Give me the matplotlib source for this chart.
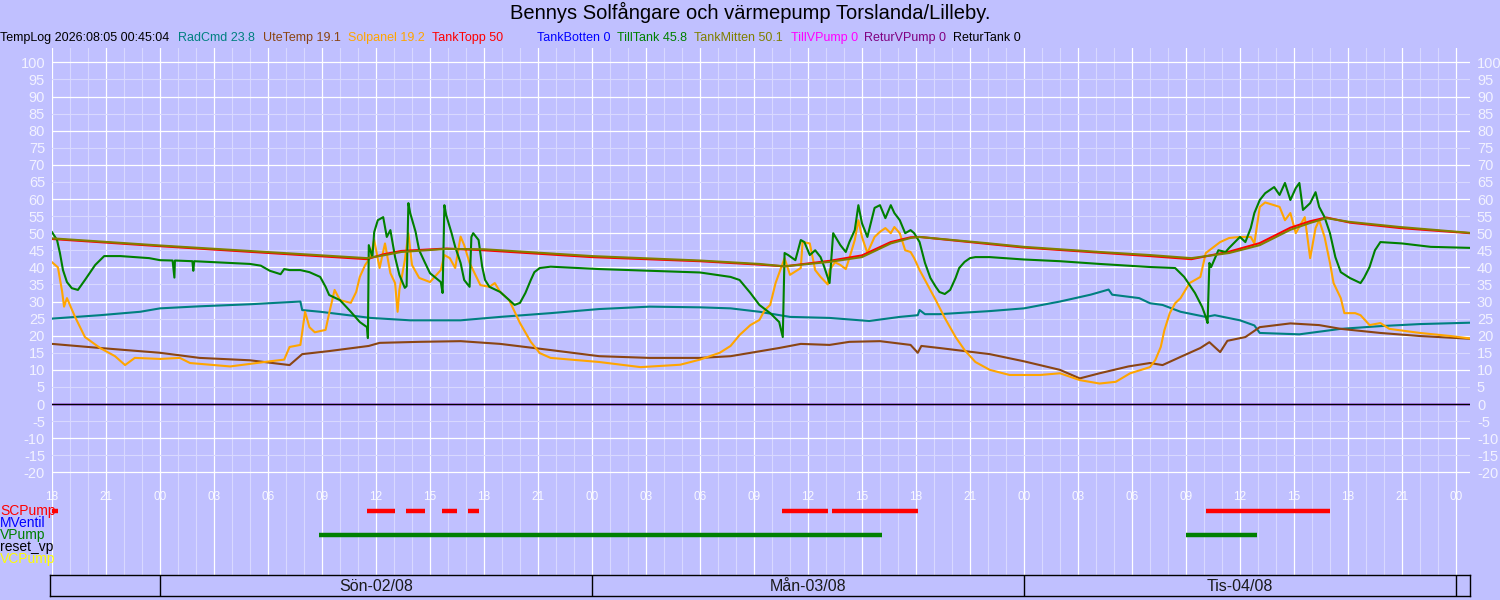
import numpy as np
import matplotlib
matplotlib.use("Agg")
import matplotlib.pyplot as plt

plt.rcParams['font.family'] = ['Liberation Sans', 'DejaVu Sans']

BG = '#C0C0FF'
GRID_MAJOR = '#FFFFFF'
GRID_MINOR = '#D8D8FF'

# time axis: hours since Sat 01/08 18:00
T_END = 78.78

title = "Bennys Solfångare och värmepump Torslanda/Lilleby."
stamp = "TempLog 2026:08:05 00:45:04"

legend_names = ["RadCmd", "UteTemp", "Solpanel", "TankTopp", "TankBotten",
                "TillTank", "TankMitten", "TillVPump", "ReturVPump", "ReturTank"]
legend_values = ["23.8", "19.1", "19.2", "50", "0", "45.8", "50.1", "0", "0", "0"]
legend_colors = ["#008080", "#8B4513", "#FFA500", "#FF0000", "#0000FF",
                 "#008000", "#808000", "#FF00FF", "#800080", "#000000"]

# RadCmd
rad_t = [0, 2.67, 4.9, 6.0, 8.2, 11.0, 13.8, 13.9, 14.9, 16.0, 17.7, 19.9, 22.7, 24.9,
         27.7, 30.4, 33.2, 36.0, 37.7, 39.3, 41.0, 43.2, 45.4, 47.1, 48.1, 48.2, 48.5,
         49.3, 52.1, 54.0, 56.0, 57.7, 58.7, 58.9, 60.4, 61.0, 61.7, 62.7, 64.1, 64.6,
         66.0, 66.8, 67.1, 69.3, 71.6, 73.8, 76.0, 78.78]
rad_v = [25.0, 26.0, 27.0, 28.0, 28.6, 29.2, 30.0, 27.5, 27.0, 26.3, 25.2, 24.5, 24.5, 25.5,
         26.6, 27.8, 28.5, 28.3, 28.0, 27.0, 25.5, 25.2, 24.3, 25.5, 26.0, 27.5, 26.3,
         26.3, 27.2, 28.0, 30.0, 32.0, 33.5, 32.0, 31.0, 29.5, 29.0, 27.0, 25.5, 26.0,
         24.5, 23.0, 20.8, 20.4, 22.0, 22.8, 23.4, 23.8]

# UteTemp
ute_t = [0, 2.67, 6.0, 8.2, 11.0, 13.2, 13.9, 15.4, 17.6, 18.2, 20.4, 22.7, 24.9, 27.7,
         30.4, 33.2, 36.0, 37.7, 40.4, 41.6, 43.2, 44.3, 46.0, 47.7, 48.1, 48.3, 49.3,
         52.1, 54.0, 56.0, 57.1, 58.2, 59.8, 61.0, 61.7, 62.7, 63.8, 64.3, 64.9, 65.3,
         66.3, 67.1, 68.8, 70.4, 71.6, 73.8, 76.0, 78.78]
ute_v = [17.6, 16.4, 15.0, 13.5, 12.8, 11.4, 14.6, 15.5, 17.0, 17.9, 18.2, 18.4, 17.6, 15.8,
         14.0, 13.5, 13.5, 14.0, 16.4, 17.6, 17.3, 18.2, 18.4, 17.3, 15.0, 17.0, 16.4,
         14.6, 12.5, 10.0, 7.5, 9.0, 11.0, 12.0, 11.4, 13.8, 16.4, 18.1, 15.2, 18.5,
         19.6, 22.5, 23.6, 23.1, 22.0, 20.8, 19.9, 19.1]

# Solpanel
sol_t = [0, 0.33, 0.56, 0.67, 0.83, 1.28, 1.83, 2.67, 3.5, 4.06, 4.6, 6.0, 7.1, 7.67,
         9.9, 12.1, 12.9, 13.2, 13.8, 13.9, 14.06, 14.3, 14.6, 15.2, 15.4, 15.7, 16.0,
         16.6, 16.9, 17.1, 17.4, 17.7, 17.9, 18.2, 18.5, 18.8, 19.06, 19.2, 19.3, 19.6,
         19.8, 20.0, 20.4, 21.0, 21.6, 21.8, 22.1, 22.4, 22.7, 22.9, 23.2, 23.8, 24.3,
         24.6, 24.9, 25.4, 26.0, 26.6, 27.1, 27.7, 30.4, 32.7, 34.9, 36.0, 37.1, 37.7,
         38.2, 38.8, 39.3, 39.6, 39.9, 40.2, 40.4, 40.7, 41.0, 41.6, 41.7, 42.1, 42.4,
         42.7, 43.1, 43.2, 43.5, 43.8, 44.1, 44.3, 44.6, 44.8, 45.0, 45.3, 45.7, 46.0,
         46.3, 46.6, 46.8, 47.1, 47.4, 47.7, 47.9, 48.2, 48.5, 49.1, 49.6, 50.2, 50.7,
         51.3, 52.1, 53.2, 54.9, 56.0, 57.1, 58.2, 59.1, 59.9, 61.0, 61.3, 61.6, 61.8,
         62.1, 62.4, 62.7, 63.2, 63.8, 64.1, 64.3, 64.9, 65.4, 66.0, 66.6, 66.8, 67.1,
         67.4, 67.9, 68.2, 68.5, 68.8, 69.1, 69.6, 69.9, 70.2, 70.4, 70.7, 71.0, 71.2,
         71.6, 71.8, 72.4, 72.7, 73.2, 73.8, 74.3, 76.0, 77.7, 78.78]
sol_v = [41.5, 40.0, 33.0, 28.5, 31.0, 25.5, 19.6, 16.4, 14.0, 11.4, 13.5, 13.2, 13.5, 12.0,
         11.0, 12.5, 13.0, 16.7, 17.3, 21.0, 27.0, 22.5, 21.0, 21.7, 26.6, 33.4, 30.4,
         29.6, 32.8, 37.2, 40.7, 43.0, 48.0, 39.8, 47.0, 38.3, 35.4, 27.0, 33.4, 42.0,
         50.0, 40.7, 36.9, 35.7, 39.2, 43.6, 42.7, 39.8, 49.0, 46.5, 41.3, 34.8, 34.3,
         35.4, 32.8, 30.4, 23.7, 18.2, 14.9, 13.5, 12.3, 10.8, 11.5, 13.0, 15.0, 17.0,
         20.2, 23.1, 24.6, 27.5, 29.0, 35.4, 38.3, 42.7, 37.8, 39.8, 47.4, 47.0, 39.2,
         37.2, 35.0, 39.2, 41.5, 40.7, 39.5, 42.7, 48.0, 53.8, 48.9, 44.2, 48.9, 50.4,
         51.5, 50.0, 51.8, 50.0, 45.0, 44.5, 42.7, 39.2, 36.3, 30.4, 25.2, 19.6, 15.8,
         12.3, 10.0, 8.5, 8.5, 9.0, 7.0, 6.0, 6.5, 9.0, 10.8, 12.9, 16.7, 21.6,
         26.6, 29.5, 31.0, 35.4, 37.2, 44.2, 45.0, 47.4, 48.6, 48.9, 48.9, 47.0, 57.7,
         59.0, 58.2, 57.7, 53.8, 55.9, 50.0, 54.7, 42.7, 51.5, 53.8, 48.9, 41.3, 35.4,
         31.0, 26.6, 26.6, 26.0, 23.1, 23.7, 22.0, 20.8, 19.9, 19.2]

# TankTopp / TankMitten
tank_t = [0, 6.0, 17.5, 18.4, 19.4, 21.9, 24.0, 30.0, 36.0, 39.3, 40.7, 43.2, 45.0, 46.6,
          47.7, 48.2, 52.1, 54.0, 58.2, 61.0, 63.3, 65.4, 67.1, 68.8, 69.9, 70.8, 72.1,
          74.9, 78.78]
topp_v = [48.3, 46.2, 42.4, 43.8, 44.8, 45.5, 45.0, 43.0, 41.8, 40.8, 40.3, 41.9, 43.5, 47.4,
          48.8, 48.9, 46.8, 45.8, 44.3, 43.3, 42.4, 44.6, 47.1, 51.6, 53.5, 54.6, 53.1,
          51.5, 50.0]
mitten_v = [48.5, 46.4, 42.7, 43.5, 44.5, 45.4, 45.3, 43.3, 42.0, 41.0, 40.3, 41.6, 43.0, 47.0,
            48.6, 48.9, 47.0, 46.0, 44.5, 43.6, 42.7, 44.2, 46.5, 51.0, 53.0, 54.4, 53.3,
            51.8, 50.1]

# TillTank
till_t = [0, 0.28, 0.44, 0.61, 0.83, 1.1, 1.44, 1.83, 2.4, 2.9, 3.8, 5.4, 6.0, 6.7, 6.8,
          6.83, 7.8, 7.85, 7.9, 11.0, 11.6, 12.1, 12.7, 12.9, 13.2, 13.8, 14.3, 14.9, 15.2,
          15.4, 16.0, 16.6, 17.1, 17.5, 17.55, 17.6, 17.8, 17.9, 18.1, 18.4, 18.6, 18.8,
          19.06, 19.3, 19.6, 19.7, 19.8, 19.9, 20.2, 20.4, 20.7, 21.0, 21.6, 21.7, 21.8,
          21.9, 22.2, 22.4, 22.7, 22.9, 23.2, 23.3, 23.4, 23.7, 23.9, 24.06, 24.3, 24.9,
          25.4, 25.7, 26.0, 26.3, 26.6, 26.8, 27.1, 27.7, 30.4, 33.2, 36.0, 37.7, 38.2,
          38.8, 39.3, 39.9, 40.4, 40.6, 40.7, 40.9, 41.3, 41.6, 41.8, 42.1, 42.4, 42.7,
          42.9, 43.2, 43.4, 43.8, 44.1, 44.3, 44.6, 44.8, 45.0, 45.3, 45.7, 46.0, 46.3,
          46.6, 46.8, 47.1, 47.4, 47.7, 47.9, 48.2, 48.5, 48.8, 49.1, 49.3, 49.6, 49.9,
          50.2, 50.4, 50.7, 51.0, 51.3, 52.1, 54.0, 56.0, 58.2, 60.4, 61.0, 62.4, 62.9,
          63.5, 63.9, 64.1, 64.2, 64.3, 64.4, 64.8, 65.2, 65.4, 66.0, 66.3, 66.6, 66.8,
          67.1, 67.4, 67.9, 68.2, 68.5, 68.8, 69.1, 69.3, 69.5, 69.9, 70.2, 70.4, 70.7,
          71.0, 71.3, 71.6, 72.1, 72.7, 72.9, 73.2, 73.5, 73.8, 75.0, 76.6, 78.78]
till_v = [50.3, 48.0, 44.2, 39.2, 35.7, 33.9, 33.4, 36.3, 40.7, 43.3, 43.3, 42.7, 42.1, 42.0, 37.0,
          42.0, 41.8, 39.0, 41.8, 41.0, 40.5, 39.0, 38.0, 39.5, 39.2, 39.2, 38.6, 37.2, 34.3,
          31.9, 30.4, 27.0, 24.0, 22.5, 19.3, 46.5, 43.0, 50.3, 53.8, 54.7, 48.9, 50.9,
          43.0, 37.8, 34.0, 34.5, 58.8, 55.9, 50.4, 45.0, 41.6, 38.3, 35.7, 32.5, 58.2,
          55.3, 50.0, 46.0, 41.3, 36.3, 34.3, 48.9, 50.0, 48.0, 40.2, 36.3, 34.3, 32.8,
          30.4, 29.0, 29.6, 32.5, 36.3, 38.6, 39.8, 40.2, 39.5, 39.0, 38.5, 37.2, 36.3,
          32.5, 29.0, 26.6, 24.0, 19.6, 44.2, 43.6, 42.1, 48.0, 47.4, 43.6, 45.0, 43.0,
          40.2, 35.4, 50.0, 46.5, 44.5, 47.4, 50.9, 58.2, 52.9, 48.9, 57.4, 58.2, 54.4,
          58.2, 55.9, 53.8, 50.0, 50.9, 50.0, 47.4, 41.3, 36.9, 34.3, 32.8, 32.2, 33.4,
          36.9, 39.8, 41.6, 42.7, 43.0, 43.0, 42.3, 41.8, 41.0, 40.3, 40.1, 39.8, 37.2,
          32.5, 28.4, 25.5, 23.7, 41.3, 40.1, 45.0, 44.5, 45.7, 48.9, 47.4, 51.5, 55.9,
          59.7, 61.7, 63.5, 61.2, 64.7, 59.7, 63.2, 64.7, 56.8, 58.8, 62.0, 57.7, 54.7,
          50.0, 43.0, 38.6, 36.9, 35.4, 37.0, 40.1, 45.0, 47.4, 47.0, 46.0, 45.7]

# series that read 0 for the whole period
zero_t = [0, T_END]
zero_v = [0, 0]

series = [
    (rad_t, rad_v), (ute_t, ute_v), (sol_t, sol_v), (tank_t, topp_v), (zero_t, zero_v),
    (till_t, till_v), (tank_t, mitten_v), (zero_t, zero_v), (zero_t, zero_v), (zero_t, zero_v),
]

# pump on/off periods (start, end) in hours
pump_names = ["SCPump", "MVentil", "VPump", "reset_vp", "VCPump"]
pump_colors = ["#FF0000", "#0000FF", "#008000", "#000000", "#FFFF00"]
pump_on = [
    [(0, 0.33), (17.5, 19.06), (19.67, 20.72), (21.67, 22.5), (23.1, 23.7),
     (40.56, 43.1), (43.33, 48.1), (64.1, 71.0)],
    [],
    [(14.83, 46.1), (63.0, 66.94)],
    [],
    [],
]

day_labels = ["Sön-02/08", "Mån-03/08", "Tis-04/08"]
day_starts = [6, 30, 54, 78]


def fx(px):
    return px / 1500.0


def fy(py):
    return 1 - py / 600.0


fig = plt.figure(figsize=(15, 6), dpi=100, facecolor=BG)

fig.text(0.5, fy(12), title, ha='center', va='center', fontsize=14.5, color='#000000')

# header row with latest readings
fig.text(fx(0), fy(38), stamp, ha='left', va='center', fontsize=9, color='#000000')
header_x = [178, 263, 348, 432, 537, 617, 694, 791, 864, 953]
for name, val, col, px in zip(legend_names, legend_values, legend_colors, header_x):
    fig.text(fx(px), fy(38), f"{name} {val}", ha='left', va='center', fontsize=9, color=col)

ax = fig.add_axes([fx(52), fy(575), (1470 - 52) / 1500, (575 - 48) / 600])
ax.set_facecolor(BG)
ax.set_xlim(0, T_END)
ax.set_ylim(-50.04, 104.2)
for s in ax.spines.values():
    s.set_visible(False)

# grid
for h in range(0, 79):
    ax.axvline(h, color=GRID_MAJOR if h % 3 == 0 else GRID_MINOR, lw=0.9 if h % 3 == 0 else 0.8,
               zorder=0)
for v in range(-20, 101, 5):
    if v == 0:
        continue
    ax.axhline(v, color=GRID_MAJOR if v % 10 == 0 else GRID_MINOR, lw=0.9 if v % 10 == 0 else 0.8,
               zorder=0)

yt = np.arange(-20, 101, 5)
ax.set_yticks(yt)
ax.set_yticklabels([str(v) for v in yt])
ax.set_xticks([])
ax.tick_params(axis='y', length=0, labelcolor='#F2F2FF', labelsize=10.5,
               labelleft=True, labelright=True, pad=5)

# hour labels inside the plot area
for h in range(0, 79, 3):
    ax.text(h, -27.2, f"{(18 + h) % 24:02d}", ha='center', va='center', fontsize=8.5,
            color='#F8F8FF')

for (t, v), col in zip(series, legend_colors):
    lw = 0.9 if col == "#000000" or max(v) == 0 else 1.5
    ax.plot(t, v, color=col, lw=lw, zorder=3)

# pump status rows
row_px = [511, 523, 535, 547, 559]
for name, col, periods, py in zip(pump_names, pump_colors, pump_on, row_px):
    fig.text(fx(0), fy(py), name, ha='left', va='center', fontsize=10, color=col)
    yv = (404 - py) / 3.417
    for a, b in periods:
        ax.hlines(yv, a, b, color=col, lw=3.2, zorder=4)

# day strip
dax = fig.add_axes([fx(50), fy(596), (1470 - 50) / 1500, 21 / 600])
dax.set_facecolor(BG)
dax.set_xlim(-2 / 18, T_END)
dax.set_ylim(0, 1)
dax.set_xticks([])
dax.set_yticks([])
for s in dax.spines.values():
    s.set_color('#000000')
    s.set_linewidth(1.0)
for d in day_starts:
    dax.axvline(d, color='#000000', lw=1.0)
for lab, a, b in zip(day_labels, day_starts[:-1], day_starts[1:]):
    dax.text((a + b) / 2, 0.45, lab, ha='center', va='center', fontsize=11.5, color='#1A1A1A')

fig.savefig("out.png", dpi=100, facecolor=BG)
